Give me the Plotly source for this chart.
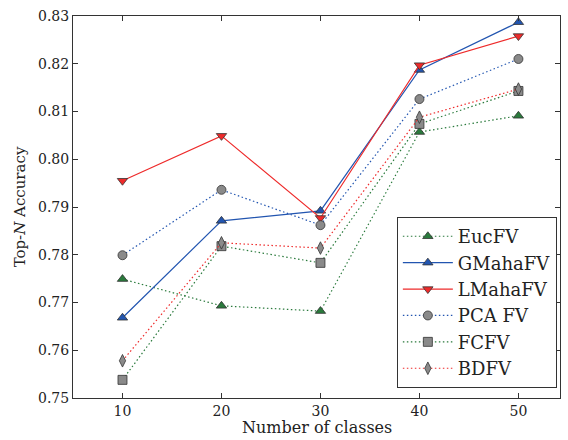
import plotly.graph_objects as go

classes = [10, 20, 30, 40, 50]
euc_fv = [0.7749, 0.7693, 0.7682, 0.8057, 0.8091]
gmaha_fv = [0.7668, 0.7871, 0.7892, 0.8187, 0.8287]
lmaha_fv = [0.7955, 0.8049, 0.7877, 0.8197, 0.8258]
pca_fv = [0.7799, 0.7936, 0.7862, 0.8126, 0.8210]
fc_fv = [0.7538, 0.7818, 0.7783, 0.8074, 0.8143]
bd_fv = [0.7578, 0.7825, 0.7814, 0.8088, 0.8147]
y_ticks = [0.75, 0.76, 0.77, 0.78, 0.79, 0.80, 0.81, 0.82, 0.83]
x_ticks = [10, 20, 30, 40, 50]

GREEN = "#2a7a3c"
BLUE = "#2255b0"
RED = "#ee2a2a"
GRAY = "#8a8a8a"
EDGE = "#333333"
DOT = "1.5px,2.5px"

series = [
    ("EucFV", euc_fv, GREEN, DOT, "triangle-up", GREEN),
    ("GMahaFV", gmaha_fv, BLUE, "solid", "triangle-up", BLUE),
    ("LMahaFV", lmaha_fv, RED, "solid", "triangle-down", RED),
    ("PCA FV", pca_fv, BLUE, DOT, "circle", GRAY),
    ("FCFV", fc_fv, GREEN, DOT, "square", GRAY),
    ("BDFV", bd_fv, RED, DOT, "diamond-tall", GRAY),
]

fig = go.Figure()
for name, vals, lc, dash, sym, mc in series:
    fig.add_trace(go.Scatter(
        x=classes, y=vals, name=name, mode="lines+markers",
        line=dict(color=lc, width=1.2, dash=dash),
        marker=dict(symbol=sym, size=9, color=mc, line=dict(color=EDGE, width=0.8)),
    ))

font_family = "DejaVu Serif"
fig.update_layout(
    width=568, height=440,
    margin=dict(l=73, r=8, t=16, b=42),
    paper_bgcolor="white", plot_bgcolor="white",
    font=dict(family=font_family, size=14, color="#222222"),
    showlegend=True,
    legend=dict(
        x=0.665, y=0.026, xanchor="left", yanchor="bottom",
        bgcolor="white", bordercolor="#333333", borderwidth=1,
        font=dict(family=font_family, size=18, color="#222222"),
        tracegroupgap=0, itemwidth=50,
    ),
    annotations=[dict(
        text="Number of classes", xref="paper", yref="paper",
        x=0.5, y=-0.076, xanchor="center", yanchor="middle",
        showarrow=False, font=dict(family=font_family, size=16, color="#222222"),
    )],
)
fig.update_xaxes(
    range=[5, 54.2], tickvals=x_ticks, ticks="inside", ticklen=5,
    tickcolor="#333333", showline=True, linecolor="#333333", linewidth=1,
    mirror="ticks", showgrid=False, zeroline=False, automargin=False,
)
fig.update_yaxes(
    range=[0.75, 0.83], tickvals=y_ticks, tickformat=".2f", ticks="inside", ticklen=5,
    tickcolor="#333333", showline=True, linecolor="#333333", linewidth=1,
    mirror="ticks", showgrid=False, zeroline=False, automargin=False,
    title=dict(text="Top-<i>N</i> Accuracy", font=dict(size=15), standoff=8),
)

fig.write_html("out.html", config={"displayModeBar": False},
               post_script="document.body.style.margin='0';")
